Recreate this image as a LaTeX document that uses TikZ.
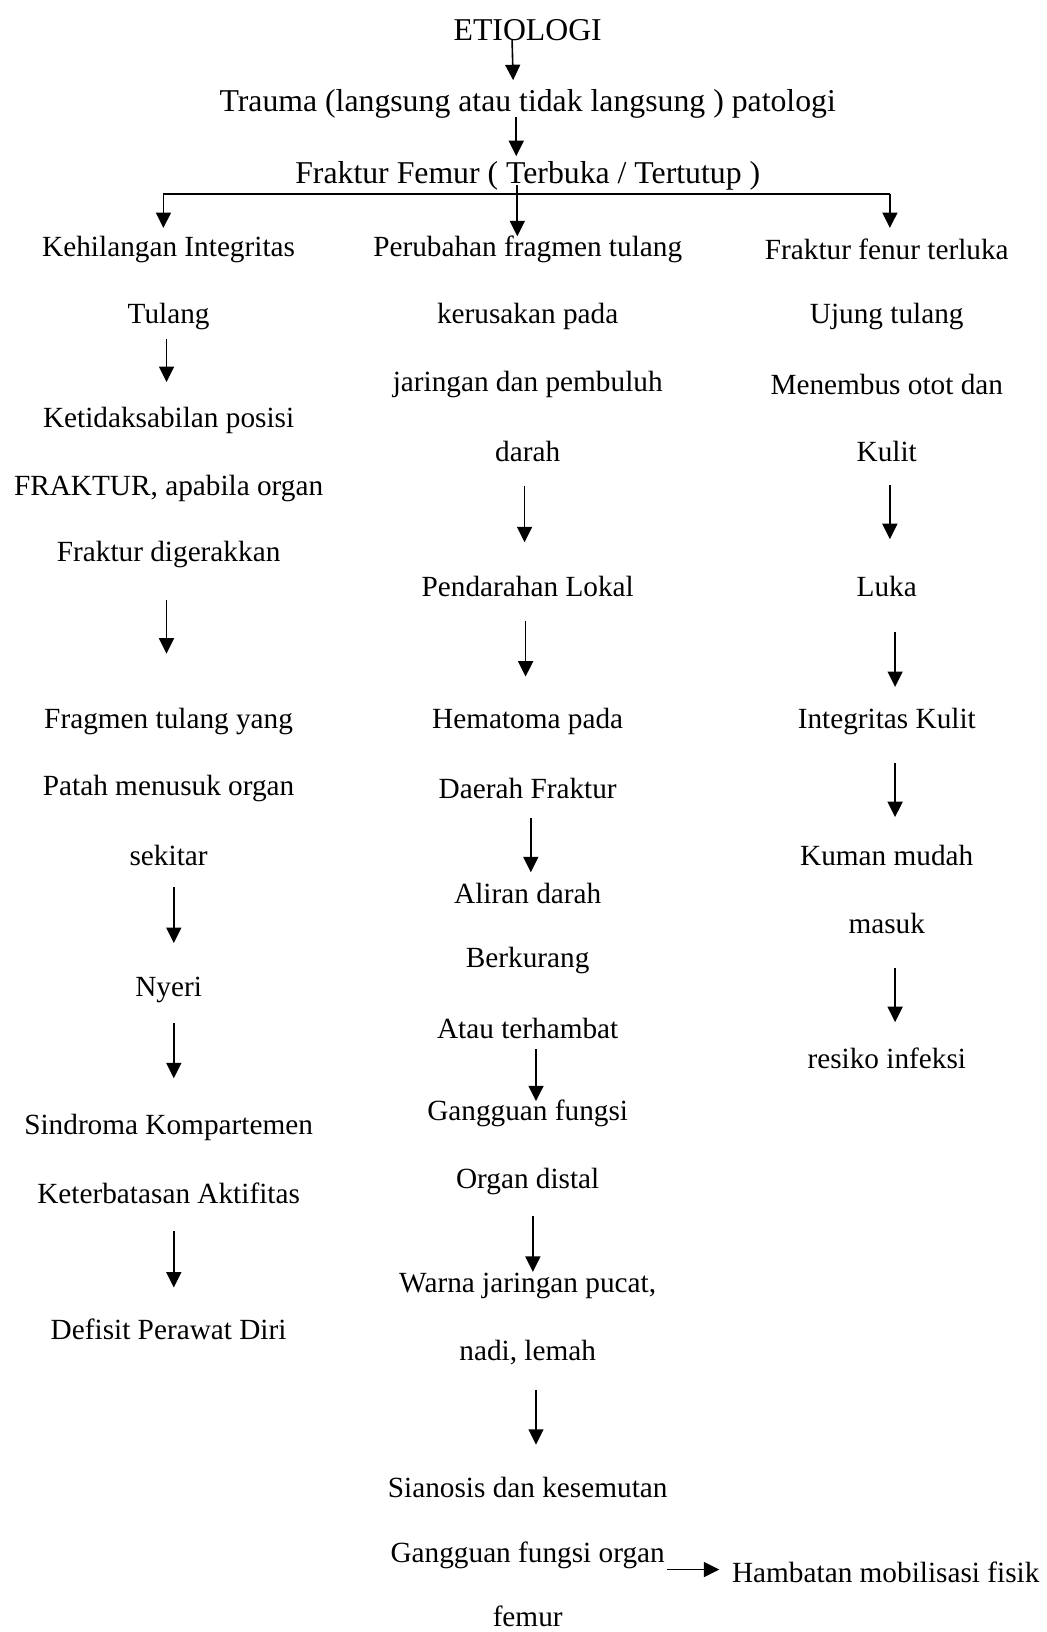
\documentclass[tikz,border=0pt]{standalone}
\usepackage{fontspec}
\setmainfont{Liberation Serif}
\usetikzlibrary{arrows.meta}

\tikzset{
  lbl/.style={inner sep=0pt, yshift=-0.075cm, font=\fontsize{20}{24}\selectfont},
  toplbl/.style={lbl, font=\fontsize{21.7}{26}\selectfont},
  arr/.style={line width=1.1pt, -{Triangle[length=0.37cm,width=0.36cm]}},
}

\begin{document}
\begin{tikzpicture}[x=0.025cm,y=-0.025cm]
    \useasboundingbox (0,0) rectangle (1005,1568);

    %top
    \node[toplbl] (etio) at (507,26) {ETIOLOGI};
    \node[toplbl] (trauma) at (507,97) {Trauma (langsung atau tidak langsung ) patologi};
    \node[toplbl] (femur) at (507,166) {Fraktur Femur ( Terbuka / Tertutup )};

    %left column
    \node[lbl] (l1) at (162,237) {Kehilangan Integritas};
    \node[lbl] (l2) at (162,301) {Tulang};
    \node[lbl] (l3) at (162,401) {Ketidaksabilan posisi};
    \node[lbl] (l4) at (162,466) {FRAKTUR, apabila organ};
    \node[lbl] (l5) at (162,530) {Fraktur digerakkan};
    \node[lbl] (l6) at (162,690) {Fragmen tulang yang};
    \node[lbl] (l7) at (162,755) {Patah menusuk organ};
    \node[lbl] (l8) at (162,819) {sekitar};
    \node[lbl] (l9) at (162,948) {Nyeri};
    \node[lbl] (l10) at (162,1080) {Sindroma Kompartemen};
    \node[lbl] (l11) at (162,1144) {Keterbatasan Aktifitas};
    \node[lbl] (l12) at (162,1274) {Defisit Perawat Diri};

    %middle column
    \node[lbl] (m1) at (507,237) {Perubahan fragmen tulang};
    \node[lbl] (m2) at (507,301) {kerusakan pada};
    \node[lbl] (m3) at (507,366) {jaringan dan pembuluh};
    \node[lbl] (m4) at (507,431) {darah};
    \node[lbl] (m5) at (507,560) {Pendarahan Lokal};
    \node[lbl] (m6) at (507,690) {Hematoma pada};
    \node[lbl] (m7) at (507,755) {Daerah Fraktur};
    \node[lbl] (m8) at (507,855) {Aliran darah};
    \node[lbl] (m9) at (507,920) {Berkurang};
    \node[lbl] (m10) at (507,985) {Atau terhambat};
    \node[lbl] (m11) at (507,1067) {Gangguan fungsi};
    \node[lbl] (m12) at (507,1132) {Organ distal};
    \node[lbl] (m13) at (507,1233) {Warna jaringan pucat,};
    \node[lbl] (m14) at (507,1297) {nadi, lemah};
    \node[lbl] (m15) at (507,1426) {Sianosis dan kesemutan};
    \node[lbl] (m16) at (507,1491) {Gangguan fungsi organ};
    \node[lbl] (m17) at (507,1550) {femur};
    \node[lbl] (hambat) at (851,1508) {Hambatan mobilisasi fisik};

    %right column
    \node[lbl] (r1) at (852,237) {Fraktur fenur terluka};
    \node[lbl] (r2) at (852,301) {Ujung tulang};
    \node[lbl] (r3) at (852,366) {Menembus otot dan};
    \node[lbl] (r4) at (852,431) {Kulit};
    \node[lbl] (r5) at (852,560) {Luka};
    \node[lbl] (r6) at (852,690) {Integritas Kulit};
    \node[lbl] (r7) at (852,819) {Kuman mudah};
    \node[lbl] (r8) at (852,884) {masuk};
    \node[lbl] (r9) at (852,1014) {resiko infeksi};

    %arrow ends
    \coordinate (ta) at (492,38);   \coordinate (tb) at (493,77);
    \coordinate (fa) at (496,112);  \coordinate (fb) at (496,150);
    \coordinate (bl) at (157,186);  \coordinate (br) at (855,186);
    \coordinate (bld) at (157,219); \coordinate (brd) at (855,219);
    \coordinate (bma) at (497,178); \coordinate (bmb) at (497,227);

    %branch
    \draw[arr] (ta) -- (tb);
    \draw[arr] (fa) -- (fb);
    \draw[line width=1.3pt] (bl) -- (br);
    \draw[arr] (bl) -- (bld);
    \draw[arr] (br) -- (brd);
    \draw[arr] (bma) -- (bmb);

    %column arrows
    \foreach \n/\x/\ya/\yb in {l1/160/326/367, l2/160/576/628, l3/167/852/906,
        l4/167/983/1036, l5/167/1183/1237,
        m1/504/467/521, m2/505/597/650, m3/510/786/838, m4/515/1008/1058,
        m5/512/1168/1222, m6/515/1335/1388,
        r1/855/466/518, r2/860/607/660, r3/860/733/785, r4/860/930/982} {
      \coordinate (\n a) at (\x,\ya);
      \coordinate (\n b) at (\x,\yb);
      \draw[arr] (\n a) -- (\n b);
    }

    \coordinate (ha) at (641,1508);
    \draw[arr, shorten >=0.3cm] (ha) -- (ha -| hambat.west);
\end{tikzpicture}
\end{document}
